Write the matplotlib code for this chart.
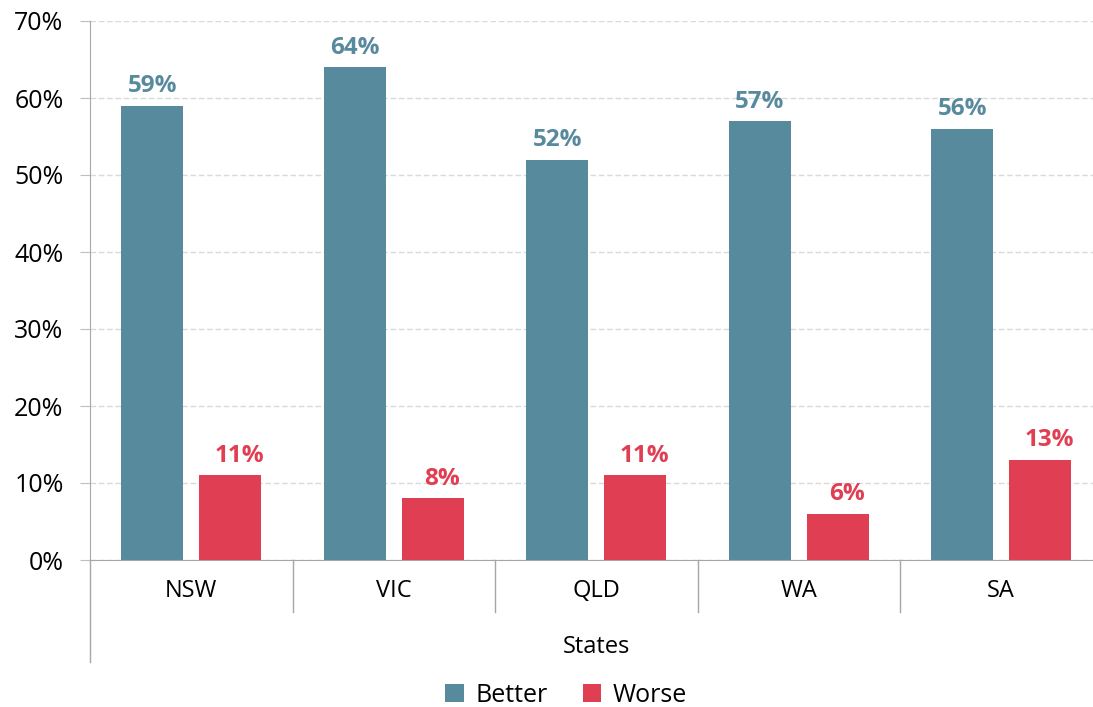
import matplotlib.pyplot as plt
import numpy as np

states = ["NSW", "VIC", "QLD", "WA", "SA"]
better = [59, 64, 52, 57, 56]
worse = [11, 8, 11, 6, 13]
yticks = [0, 10, 20, 30, 40, 50, 60, 70]

plt.rcParams['font.family'] = ['Open Sans', 'DejaVu Sans']

c_better = "#588A9E"
c_worse = "#E03E52"

fig = plt.figure(figsize=(10.93, 7.07), dpi=100)
H = 560 - 21
ax = fig.add_axes([90/1093, 1-560/707, 1012.5/1093, H/707])

x = np.arange(len(states))
w = 0.306
off = 0.193
b1 = ax.bar(x - off, better, w, color=c_better, label="Better", zorder=3)
b2 = ax.bar(x + off, worse, w, color=c_worse, label="Worse", zorder=3)

for xi, v in zip(x, better):
    ax.text(xi - off, v + 1.75, f"{v}%", ha="center", va="baseline", color=c_better,
            fontsize=17.5, fontweight="bold")
for xi, v in zip(x, worse):
    ax.text(xi + off + 0.045, v + 1.75, f"{v}%", ha="center", va="baseline", color=c_worse,
            fontsize=17.5, fontweight="bold")

ax.set_xlim(-0.5, len(states) - 0.5)
ax.set_ylim(0, 70)
ax.set_yticks(yticks)
ax.set_yticklabels([f"{t}%" for t in yticks], fontsize=18)
ax.set_xticks(x)
ax.set_xticklabels(states, fontsize=17)
ax.tick_params(axis='x', length=0, pad=14)
ax.tick_params(axis='y', length=7, color='#bfbfbf', pad=12)
ax.grid(axis='y', color='#d9d9d9', linestyle=(0, (4, 2)), linewidth=1, zorder=0)

for s in ['top', 'right']:
    ax.spines[s].set_visible(False)
ax.spines['left'].set_color('#a6a6a6')
ax.spines['bottom'].set_color('#a6a6a6')

# extended left spine and category separators
ax.plot([0, 0], [0, -102/H], transform=ax.transAxes, color='#a6a6a6', lw=1, clip_on=False)
for i in range(1, len(states)):
    xf = i / len(states)
    ax.plot([xf, xf], [0, -52/H], transform=ax.transAxes, color='#a6a6a6', lw=1, clip_on=False)

ax.text(597/1093, 1-647/707, "States", transform=fig.transFigure, ha="center", va="center", fontsize=17)

fig.legend(handles=[b1, b2], labels=["Better", "Worse"], loc="center",
           bbox_to_anchor=(566/1093, 1-695/707), ncol=2, frameon=False, fontsize=18,
           handlelength=0.75, handleheight=0.75, handletextpad=0.45, columnspacing=1.4)

fig.savefig("out.png", dpi=100)
